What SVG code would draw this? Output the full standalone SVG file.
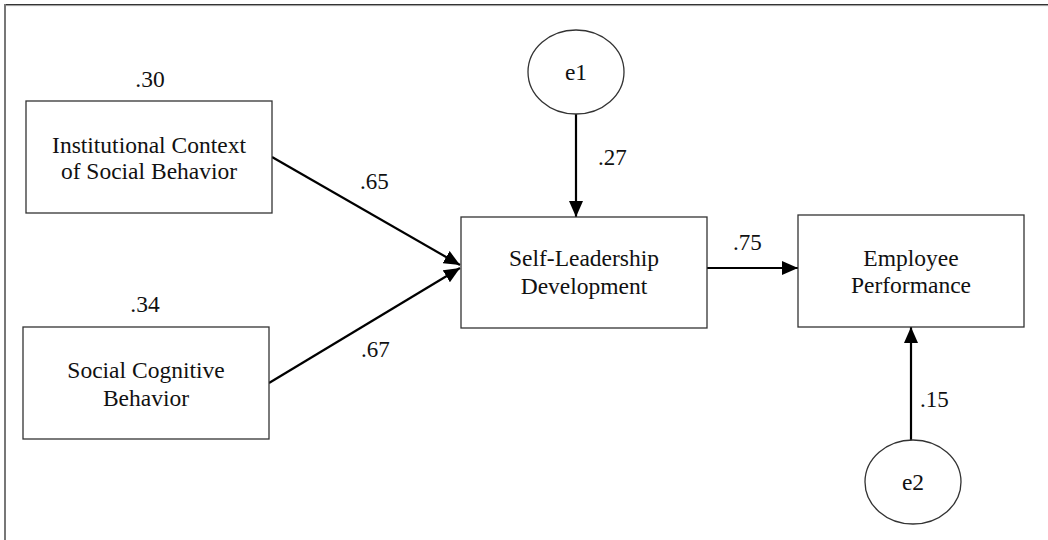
<svg xmlns="http://www.w3.org/2000/svg" width="1048" height="540" viewBox="0 0 1048 540">
<defs>
<style>
.box{fill:#fff;stroke:#333;stroke-width:1.3}
.err{fill:#fff;stroke:#333;stroke-width:1.3}
.t{font-family:"Liberation Serif","Times New Roman",serif;font-size:23.5px;fill:#111;text-anchor:middle}
.lbl{font-family:"Liberation Serif","Times New Roman",serif;font-size:23px;fill:#111}
.edge{stroke:#000;stroke-width:2.2;fill:none;marker-end:url(#ah)}
</style>
<marker id="ah" viewBox="0 0 16 14" refX="16" refY="7" markerWidth="16" markerHeight="14" markerUnits="userSpaceOnUse" orient="auto">
<path d="M0,0 L16,7 L0,14 Z" fill="#000"/>
</marker>
</defs>
<rect width="1048" height="540" fill="#fff"/>
<g id="frame">
<line x1="4" y1="4.5" x2="1048" y2="4.5" stroke="#333" stroke-width="1.2"/>
<line x1="4" y1="5.6" x2="1048" y2="5.6" stroke="#999" stroke-width="1"/>
<line x1="5" y1="4" x2="5" y2="540" stroke="#777" stroke-width="2"/>
</g>
<g id="connectors">
<line class="edge" x1="272" y1="157" x2="460" y2="265"/>
<line class="edge" x1="269" y1="383" x2="460" y2="268"/>
<line class="edge" x1="576" y1="114" x2="576" y2="217"/>
<line class="edge" x1="707" y1="268" x2="798" y2="268"/>
<line class="edge" x1="911" y1="440" x2="911" y2="327"/>
<text class="lbl" x="360" y="189">.65</text>
<text class="lbl" x="361" y="357">.67</text>
<text class="lbl" x="598" y="165">.27</text>
<text class="lbl" x="733" y="250">.75</text>
<text class="lbl" x="920" y="407">.15</text>
</g>
<g id="n-institutional">
<text class="t" x="150" y="87">.30</text>
<rect class="box" x="26" y="101" width="246" height="112"/>
<text class="t" x="149" y="153">Institutional Context</text>
<text class="t" x="149" y="179">of Social Behavior</text>
</g>
<g id="n-social">
<text class="t" x="145" y="312">.34</text>
<rect class="box" x="23" y="327" width="246" height="112"/>
<text class="t" x="146" y="378">Social Cognitive</text>
<text class="t" x="146" y="406">Behavior</text>
</g>
<g id="n-self">
<rect class="box" x="461" y="217" width="246" height="111"/>
<text class="t" x="584" y="266">Self-Leadership</text>
<text class="t" x="584" y="294">Development</text>
</g>
<g id="n-employee">
<rect class="box" x="798" y="215" width="226" height="112"/>
<text class="t" x="911" y="266">Employee</text>
<text class="t" x="911" y="293">Performance</text>
</g>
<g id="n-e1">
<ellipse class="err" cx="576" cy="72" rx="48" ry="42"/>
<text class="t" x="576" y="80">e1</text>
</g>
<g id="n-e2">
<ellipse class="err" cx="913" cy="482" rx="48" ry="42"/>
<text class="t" x="913" y="490">e2</text>
</g>
</svg>
